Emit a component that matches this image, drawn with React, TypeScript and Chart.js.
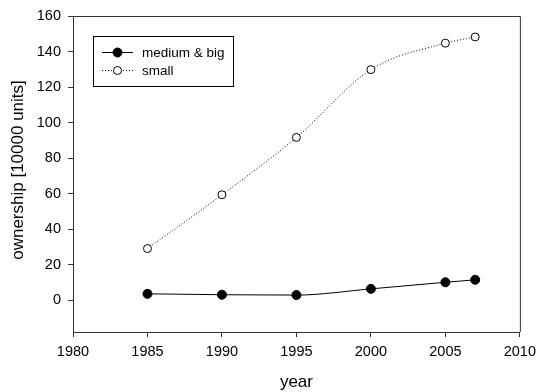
import React, { useEffect, useRef } from "react";
import { Chart, registerables } from "chart.js";

Chart.register(...registerables);

const years = [1985, 1990, 1995, 2000, 2005, 2007];
const mediumBig = [3.5, 3.0, 2.8, 6.3, 10.0, 11.4];
const small = [29, 59.3, 91.6, 129.8, 144.7, 148.2];
const yTicks = [0, 20, 40, 60, 80, 100, 120, 140, 160];
const xTicks = [1980, 1985, 1990, 1995, 2000, 2005, 2010];
const seriesNames = ["medium & big", "small"];

const FONT = "'Liberation Sans', Arial, sans-serif";

const framePlugin = {
  id: "frameAndLegend",
  afterDraw(chart: any) {
    const { ctx, chartArea } = chart;
    const { left, right, top, bottom } = chartArea;
    ctx.save();
    ctx.strokeStyle = "#333";
    ctx.lineWidth = 1;
    ctx.beginPath();
    ctx.moveTo(left, top + 0.5);
    ctx.lineTo(right + 0.5, top + 0.5);
    ctx.lineTo(right + 0.5, bottom);
    ctx.stroke();

    // axis titles
    ctx.fillStyle = "#000";
    ctx.font = `17px ${FONT}`;
    ctx.textAlign = "center";
    ctx.textBaseline = "middle";
    ctx.fillText("year", (left + right) / 2, 382);
    ctx.save();
    ctx.translate(18, 170);
    ctx.rotate(-Math.PI / 2);
    ctx.fillText("ownership [10000 units]", 0, 0);
    ctx.restore();

    // legend
    const bx = 93.5, by = 36.5, bw = 140, bh = 50;
    ctx.strokeStyle = "#000";
    ctx.strokeRect(bx, by, bw, bh);
    ctx.font = `13.5px ${FONT}`;
    ctx.textAlign = "left";
    const rows = [52, 70];
    rows.forEach((y, i) => {
      ctx.beginPath();
      ctx.setLineDash(i === 0 ? [] : [1, 2]);
      ctx.moveTo(102, y + 0.5);
      ctx.lineTo(133, y + 0.5);
      ctx.stroke();
      ctx.setLineDash([]);
      ctx.beginPath();
      ctx.arc(117.5, y + 0.5, i === 0 ? 4.5 : 4, 0, Math.PI * 2);
      ctx.fillStyle = i === 0 ? "#000" : "#fff";
      ctx.fill();
      ctx.stroke();
      ctx.fillStyle = "#000";
      ctx.fillText(seriesNames[i], 142, y + 1);
    });
    ctx.restore();
  },
};

export default function App() {
  const ref = useRef<HTMLCanvasElement | null>(null);
  useEffect(() => {
    if (!ref.current) return;
    const chart = new Chart(ref.current, {
      type: "line",
      data: {
        datasets: [
          {
            label: seriesNames[0],
            data: years.map((x, i) => ({ x, y: mediumBig[i] })),
            borderColor: "#000",
            borderWidth: 1,
            backgroundColor: "#000",
            pointBackgroundColor: "#000",
            pointBorderColor: "#000",
            pointRadius: 4.5,
            tension: 0.4,
            cubicInterpolationMode: "monotone",
          },
          {
            label: seriesNames[1],
            data: years.map((x, i) => ({ x, y: small[i] })),
            borderColor: "#000",
            borderWidth: 1,
            borderDash: [1, 2],
            pointBackgroundColor: "#fff",
            pointBorderColor: "#000",
            pointBorderWidth: 1,
            pointRadius: 4,
            tension: 0.4,
            cubicInterpolationMode: "monotone",
          },
        ],
      },
      options: {
        animation: false,
        responsive: false,
        maintainAspectRatio: false,
        layout: { padding: { top: 16, right: 18, left: 0, bottom: 0 } },
        plugins: { legend: { display: false }, tooltip: { enabled: false } },
        scales: {
          x: {
            type: "linear",
            min: 1980,
            max: 2010,
            afterBuildTicks: (axis: any) => {
              axis.ticks = xTicks.map((v) => ({ value: v }));
            },
            afterFit: (axis: any) => {
              axis.height = 60;
            },
            grid: { drawOnChartArea: false, drawTicks: true, tickLength: 5, color: "#333" },
            border: { display: true, color: "#333", width: 1 },
            ticks: {
              color: "#000",
              font: { family: FONT, size: 14.5 },
              padding: 6,
              maxRotation: 0,
              callback: (v: any) => String(v),
            },
          },
          y: {
            type: "linear",
            min: -18,
            max: 160,
            afterBuildTicks: (axis: any) => {
              axis.ticks = yTicks.map((v) => ({ value: v }));
            },
            afterFit: (axis: any) => {
              axis.width = 73;
            },
            grid: { drawOnChartArea: false, drawTicks: true, tickLength: 5, color: "#333" },
            border: { display: true, color: "#333", width: 1 },
            ticks: {
              color: "#000",
              font: { family: FONT, size: 14.5 },
              padding: 7,
            },
          },
        },
      },
      plugins: [framePlugin],
    } as any);
    return () => chart.destroy();
  }, []);
  return (
    <div style={{ position: "fixed", left: 0, top: 0, width: 542, height: 392, background: "#fff" }}>
      <canvas ref={ref} width={542} height={392} style={{ width: 542, height: 392 }} />
    </div>
  );
}
